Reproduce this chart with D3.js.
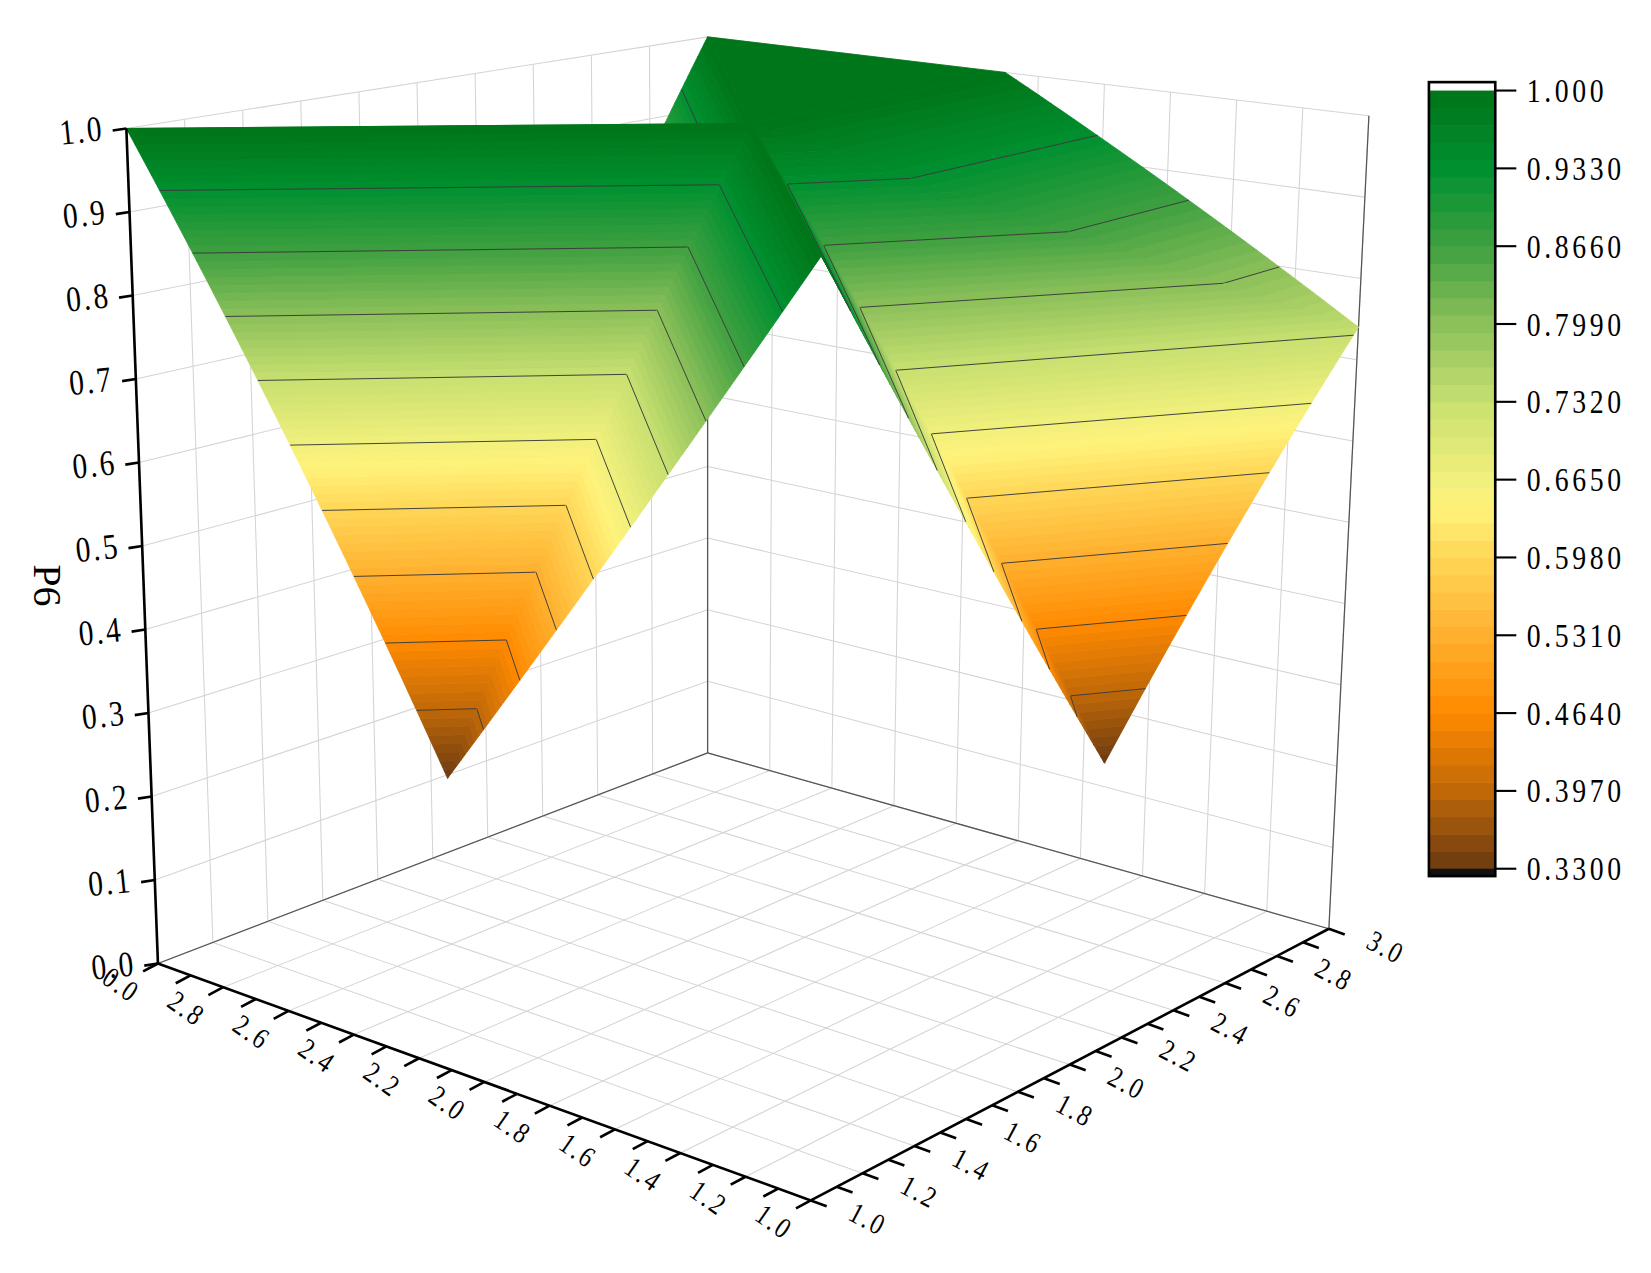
<!DOCTYPE html>
<html><head><meta charset="utf-8">
<script src="https://cdn.jsdelivr.net/npm/d3@7"></script>
<style>body{margin:0;background:#fff}</style></head>
<body><svg id="c" width="1651" height="1273"></svg>
<script>
// ---- data ----
const aValues = [1, 2.1, 3];           // left axis
const bValues = [1, 2.1, 3];           // right axis
// zGrid[i][j] = value at a=aValues[i], b=bValues[j]
const zRow_a1 = [1.00, 0.33, 0.74];
const zRow_a2 = [0.33, 1.00, 1.00];
const zRow_a3 = [1.00, 0.33, 1.00];
const zGrid = [zRow_a1, zRow_a2, zRow_a3];
const zTicks = [0,0.1,0.2,0.3,0.4,0.5,0.6,0.7,0.8,0.9,1.0];
const abTicks = [1.0,1.2,1.4,1.6,1.8,2.0,2.2,2.4,2.6,2.8,3.0];
const cbTicks = [0.33,0.397,0.464,0.531,0.598,0.665,0.732,0.799,0.866,0.933,1.0];
const cbLabels = ["0.3300","0.3970","0.4640","0.5310","0.5980","0.6650","0.7320","0.7990","0.8660","0.9330","1.000"];
const colorStops = [0.33,0.397,0.464,0.531,0.598,0.64,0.665,0.732,0.799,0.866,0.933,1.0];
const colorVals = ["#6a3a10","#c06808","#ff8a00","#ffb02e","#ffd656","#fff27a","#f2f07c","#c8e070","#8cc05a","#3fa040","#009030","#007418"];

// ---- projection (trilinear box) ----
const C = {F:{b:[770,1140],t:[780,243]}, L:{b:[150,915],t:[120,122]},
           R:{b:[1262,882],t:[1300,110]}, K:{b:[672,715],t:[672,35]}};
const sa = d3.scaleLinear().domain([1,3]).range([0,1]);
const sb = d3.scaleLinear().domain([1,3]).range([0,1]);
const sz = d3.scaleLinear().domain([0,1]).range([0,1]);
function P(a,b,z){
  const u=sa(a), v=sb(b), w=sz(z);
  const wF=(1-u)*(1-v), wL=u*(1-v), wR=(1-u)*v, wK=u*v;
  const pt=k=>[0,1].map(i=>wF*C.F[k][i]+wL*C.L[k][i]+wR*C.R[k][i]+wK*C.K[k][i]);
  const bo=pt('b'), to=pt('t');
  return [bo[0]+w*(to[0]-bo[0]), bo[1]+w*(to[1]-bo[1])];
}
const svg=d3.select("#c").append("g").attr("transform","scale(1.053)");
const color=d3.scaleLinear().domain(colorStops).range(colorVals).clamp(true);
const line=d3.line();
const gGrid=svg.append("g");
const gridC="#d4d4d4";
function seg(g,p,q,col,w){g.append("path").attr("d",line([p,q])).attr("stroke",col).attr("stroke-width",w).attr("fill","none");}
abTicks.forEach(t=>{
  seg(gGrid,P(3,t,0),P(3,t,1),gridC,1);
  seg(gGrid,P(t,3,0),P(t,3,1),gridC,1);
  seg(gGrid,P(t,1,0),P(t,3,0),gridC,1);
  seg(gGrid,P(1,t,0),P(3,t,0),gridC,1);
});
zTicks.forEach(z=>{
  seg(gGrid,P(3,1,z),P(3,3,z),gridC,1);
  seg(gGrid,P(1,3,z),P(3,3,z),gridC,1);
});
seg(gGrid,P(3,3,0),P(3,3,1),"#555",1.2);
seg(gGrid,P(3,1,0),P(3,3,0),"#555",1.2);
seg(gGrid,P(1,3,0),P(3,3,0),"#555",1.2);
seg(gGrid,P(1,3,0),P(1,3,1),"#555",1.2);

// ---- surface ----
const tris=[];
const idx=(i,j)=>({a:aValues[i],b:bValues[j],z:zGrid[i][j]});
tris.push([idx(0,0),idx(1,0),idx(1,1)]);
tris.push([idx(0,0),idx(0,1),idx(1,1)]);
tris.push([idx(2,0),idx(1,1),idx(1,0)]);
tris.push([idx(2,0),idx(2,1),idx(1,1)]);
tris.push([idx(0,1),idx(1,1),idx(0,2)]);
tris.push([idx(1,1),idx(1,2),idx(0,2)]);
tris.push([idx(1,1),idx(2,1),idx(2,2)]);
tris.push([idx(1,1),idx(1,2),idx(2,2)]);
tris.forEach(t=>t.depth=d3.mean(t,p=>p.a+p.b));
tris.sort((x,y)=>y.depth-x.depth);
function clip(poly,lo,hi){
  const cut=(pts,f,lev)=>{const out=[];for(let i=0;i<pts.length;i++){const p=pts[i],q=pts[(i+1)%pts.length];
    const ip=f(p.z),iq=f(q.z);if(ip)out.push(p);
    if(ip!==iq){const r=(lev-p.z)/(q.z-p.z);out.push({a:p.a+r*(q.a-p.a),b:p.b+r*(q.b-p.b),z:lev});}}return out;};
  let r=cut(poly,z=>z>=lo,lo); if(r.length<3)return r; return cut(r,z=>z<=hi,hi);
}
const nb=80, bands=d3.range(nb).map(k=>[0.33+k*0.67/nb,0.33+(k+1)*0.67/nb]);
const contourLevels=d3.range(1,10).map(k=>0.33+k*0.067);
const gS=svg.append("g");
tris.forEach(t=>{
  const g=gS.append("g");
  bands.forEach(([lo,hi])=>{
    const pol=clip(t,lo-1e-9,hi+1e-9);
    if(pol.length<3)return;
    const c=color((lo+hi)/2);
    g.append("path").attr("d",line(pol.map(p=>P(p.a,p.b,p.z)))+"Z").attr("fill",c).attr("stroke",c).attr("stroke-width",0.8);
  });
  contourLevels.forEach(l=>{
    const pts=[];for(let i=0;i<3;i++){const p=t[i],q=t[(i+1)%3];
      if((p.z-l)*(q.z-l)<0){const r=(l-p.z)/(q.z-p.z);pts.push(P(p.a+r*(q.a-p.a),p.b+r*(q.b-p.b),l));}}
    if(pts.length===2)g.append("path").attr("d",line(pts)).attr("stroke","#3a3a3a").attr("stroke-width",0.9).attr("fill","none");
  });
});

// ---- axes ----
const font="'Liberation Serif', serif";
const gA=svg.append("g");
function lbl(x,y,rot,anchor,size,txt){
  gA.append("text").attr("font-family",font).attr("font-size",size).attr("text-anchor",anchor).attr("letter-spacing",3)
   .attr("transform",`translate(${x},${y}) rotate(${rot}) scale(0.82,1)`).text(txt);
}
seg(gA,P(3,1,0),P(3,1,1),"#000",2.5);
zTicks.forEach(z=>{const p=P(3,1,z);seg(gA,p,[p[0]-13,p[1]+2],"#000",2.5);
  lbl(p[0]-20,p[1]+11,-6,"end",34,z.toFixed(1));
});
svg.append("text").attr("font-family",font).attr("font-size",38).attr("transform","translate(32,556) rotate(90)")
  .attr("text-anchor","middle").text("P6");
seg(gA,P(1,1,0),P(3,1,0),"#000",2.5);
const dirA=[-0.88,0.47];
abTicks.forEach(t=>{const p=P(t,1,0);seg(gA,p,[p[0]+dirA[0]*16,p[1]+dirA[1]*16],"#000",2.5);
  if(t<3){const q=P(t+0.1,1,0);seg(gA,q,[q[0]+dirA[0]*16,q[1]+dirA[1]*16],"#000",2.5);}
  const lx=p[0]-40,ly=p[1]+28;
  lbl(lx,ly,35,"middle",28,t===3?"0.0":t.toFixed(1));
});
seg(gA,P(1,1,0),P(1,3,0),"#000",2.5);
const dirB=[0.94,0.34];
abTicks.forEach(t=>{const p=P(1,t,0);seg(gA,p,[p[0]+dirB[0]*16,p[1]+dirB[1]*16],"#000",2.5);
  if(t<3){const q=P(1,t+0.1,0);seg(gA,q,[q[0]+dirB[0]*16,q[1]+dirB[1]*16],"#000",2.5);}
  const lx=p[0]+50,ly=p[1]+26;
  lbl(lx,ly,28,"middle",28,t.toFixed(1));
});

// ---- colorbar ----
const cb=svg.append("g");
const cy=d3.scaleLinear().domain([0.33,1.0]).range([825,86]);
const cx0=1357,cw=63;
cb.append("rect").attr("x",cx0).attr("y",78).attr("width",cw).attr("height",8).attr("fill","#fff");
d3.range(45).forEach(k=>{const lo=0.33+k*0.67/45,hi=0.33+(k+1)*0.67/45;
  cb.append("rect").attr("x",cx0).attr("y",cy(hi)).attr("width",cw).attr("height",cy(lo)-cy(hi)+0.5).attr("fill",color((lo+hi)/2));});
cb.append("rect").attr("x",cx0).attr("y",825).attr("width",cw).attr("height",7).attr("fill","#111");
cb.append("rect").attr("x",cx0).attr("y",78).attr("width",cw).attr("height",754).attr("fill","none").attr("stroke","#000").attr("stroke-width",2.5);
cbTicks.forEach((t,i)=>{const y=cy(t);seg(cb,[cx0+cw,y],[cx0+cw+20,y],"#000",2);
  cb.append("text").attr("font-family",font).attr("font-size",31).attr("letter-spacing",4)
    .attr("transform",`translate(1450,${y+11}) scale(0.85,1)`).text(cbLabels[i]);});
</script></body></html>
